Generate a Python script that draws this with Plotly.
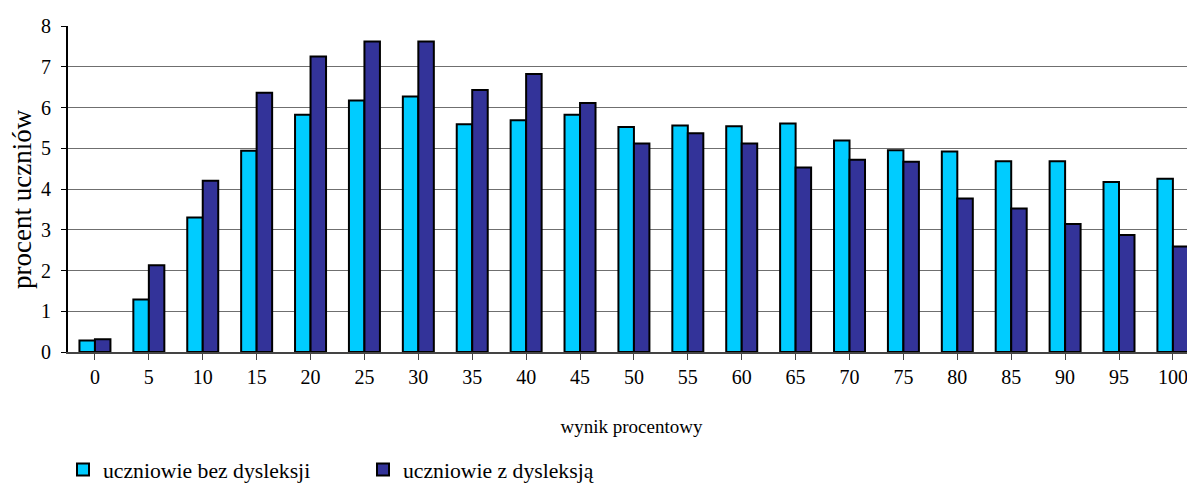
import plotly.graph_objects as go

categories = ["0", "5", "10", "15", "20", "25", "30", "35", "40", "45", "50",
              "55", "60", "65", "70", "75", "80", "85", "90", "95", "100"]
bez_dysleksji = [0.28, 1.29, 3.30, 4.94, 5.82, 6.17, 6.27, 5.59, 5.69, 5.82, 5.52,
                 5.56, 5.54, 5.61, 5.19, 4.95, 4.92, 4.68, 4.68, 4.17, 4.25]
z_dysleksja = [0.31, 2.13, 4.20, 6.36, 7.25, 7.62, 7.62, 6.43, 6.82, 6.11, 5.12,
               5.37, 5.12, 4.53, 4.72, 4.67, 3.77, 3.52, 3.14, 2.87, 2.59]
series_names = ["uczniowie bez dysleksji", "uczniowie z dysleksją"]
y_ticks = [0, 1, 2, 3, 4, 5, 6, 7, 8]
x_title = "wynik procentowy"
y_title = "procent uczniów"

FONT = "Liberation Serif"
# the page body has an 8px margin, so the figure is drawn 8px smaller and offset
W, H = 1187, 476
L, R, T, B = 60, 0, 18, 132
PW, PH = W - L - R, H - T - B

fig = go.Figure()
fig.add_trace(go.Bar(x=list(range(len(categories))), y=bez_dysleksji, name=series_names[0],
                     marker=dict(color="#00CCFF", line=dict(color="black", width=2))))
fig.add_trace(go.Bar(x=list(range(len(categories))), y=z_dysleksja, name=series_names[1],
                     marker=dict(color="#333399", line=dict(color="black", width=2))))

fig.update_layout(
    width=W, height=H,
    margin=dict(l=L, r=R, t=T, b=B, pad=0, autoexpand=False),
    paper_bgcolor="white", plot_bgcolor="white",
    barmode="group", bargap=0.425, bargroupgap=0,
    font=dict(family=FONT, size=20, color="black"),
    legend=dict(orientation="h", xref="container", yref="container",
                x=55 / W, y=1 - 462 / H, xanchor="left", yanchor="middle",
                itemwidth=30, entrywidth=255, entrywidthmode="pixels",
                font=dict(family=FONT, size=21.7, color="black"),
                bgcolor="rgba(0,0,0,0)", tracegroupgap=0),
    annotations=[dict(text=y_title, textangle=-90, showarrow=False,
                      xref="paper", yref="paper",
                      x=-46 / PW, y=(PH - 173) / PH, xanchor="center", yanchor="middle",
                      font=dict(family=FONT, size=27, color="black"))],
)
fig.update_xaxes(
    tickmode="array", tickvals=list(range(len(categories))), ticktext=categories,
    range=[-0.5, 20.41], tickson="boundaries", automargin=False,
    ticks="outside", ticklen=6, tickcolor="#444", tickwidth=1,
    showline=True, linecolor="#444", linewidth=2,
    showgrid=False, zeroline=False,
    ticklabelstandoff=0,
    tickfont=dict(family=FONT, size=20),
    title=dict(text=x_title, font=dict(family=FONT, size=19), standoff=33),
)
fig.update_yaxes(
    range=[0, 8.001], tickmode="array", tickvals=y_ticks, automargin=False,
    ticks="outside", ticklen=5, tickcolor="black", tickwidth=1,
    showline=True, linecolor="black", linewidth=2,
    showgrid=True, gridcolor="#6f6f6f", gridwidth=1, zeroline=False,
    ticklabelstandoff=6,
    tickfont=dict(family=FONT, size=20),
)

fig.write_html("out.html")
